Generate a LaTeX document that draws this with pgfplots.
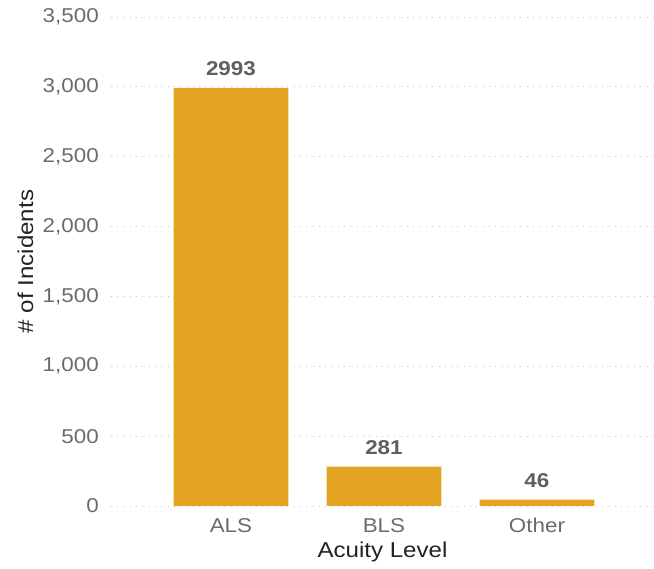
\documentclass[border=0pt]{standalone}
\usepackage{pgfplots}
\pgfplotsset{compat=1.18}
\usepackage{fontspec}
\setmainfont{Liberation Sans}[FakeStretch=1.12]
\definecolor{barc}{HTML}{E3A521}
\definecolor{tickc}{HTML}{6B6B6B}
\definecolor{valc}{HTML}{5F5F5F}
\definecolor{titc}{HTML}{222222}
\definecolor{gridc}{HTML}{C8C8C8}
\begin{document}
\begin{tikzpicture}
\useasboundingbox (-111pt,-63pt) rectangle (543pt,506pt);
\begin{axis}[
  scale only axis, width=543pt, height=489pt,
  at={(0pt,0pt)}, anchor=south west,
  xmin=-0.784, xmax=2.765, ymin=0, ymax=3500,
  xtick={0,1,2}, xticklabels={ALS,BLS,Other},
  ytick={0,500,...,3500},
  axis line style={draw=none},
  major tick length=0pt,
  ymajorgrids, grid style={gridc, line width=0.9pt, dash pattern=on 0.9pt off 5.4pt},
  /pgf/number format/assume math mode=true,
  /pgf/number format/1000 sep={,},
  yticklabel style={font=\fontsize{20}{24}\selectfont, text=tickc, anchor=east, inner sep=0pt, xshift=-12pt},
  xticklabel style={font=\fontsize{20}{24}\selectfont, text=tickc, anchor=base, inner sep=0pt, yshift=-27pt},
  every axis x label/.style={at={(axis description cs:0.5,0)}, anchor=base, yshift=-52pt, inner sep=0pt, font=\fontsize{21.5}{25}\selectfont, text=titc},
  every axis y label/.style={at={(axis description cs:-0.1436,0.5)}, rotate=90, anchor=base, inner sep=0pt, font=\fontsize{21.5}{25}\selectfont, text=titc},
  xlabel={Acuity Level}, ylabel={\# of Incidents},
  point meta=explicit symbolic,
  nodes near coords,
  every node near coord/.append style={font=\fontsize{20}{24}\selectfont\bfseries, text=valc, anchor=base, inner sep=0pt, yshift=12pt},
]
\addplot[ybar, bar width=0.75, fill=barc, draw=none] coordinates {(0,2993)[2993] (1,281)[281] (2,46)[46]};
\end{axis}
\end{tikzpicture}
\end{document}
